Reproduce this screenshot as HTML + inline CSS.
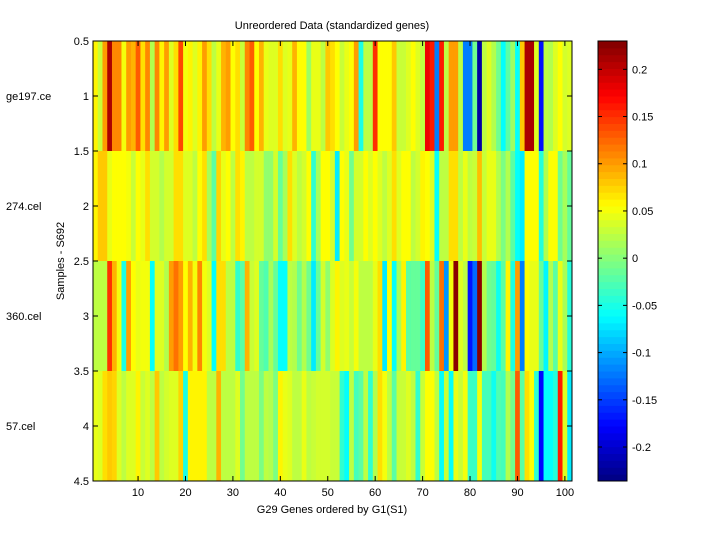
<!DOCTYPE html>
<html><head><meta charset="utf-8">
<style>
body{margin:0;background:#fff;font-family:"Liberation Sans",sans-serif;}
svg text{font-family:"Liberation Sans",sans-serif;font-size:11px;fill:#000;}
</style></head>
<body>
<svg id="chart" width="720" height="540" viewBox="0 0 720 540">
<rect width="720" height="540" fill="#fff"/>
<g id="cells"></g>
<g id="axes"></g>
<g id="cbar"></g>
<text x="332" y="29" text-anchor="middle">Unreordered Data (standardized genes)</text>
<text x="332" y="513" text-anchor="middle">G29 Genes ordered by G1(S1)</text>
<text x="0" y="0" text-anchor="middle" transform="translate(64,261) rotate(-90)">Samples - S692</text>
</svg>
<script>
const sampleNames = ["ge197.ce","274.cel","360.cel","57.cel"];
const row1 = [0.06,0.03,0.1,0.21,0.11,0.11,0.05,0.1,0.09,0.13,0.07,0.11,0.02,0.11,0.06,0.1,0.04,0.07,0.14,0.05,0.06,0.04,0.06,0.1,0.07,
0.025,0.045,0.09,0.1,0.055,0.07,0.03,0.11,0.13,0.055,0.09,0.045,0.04,0.04,0.07,0.04,0.045,0.09,0.055,0.055,0.01,0.045,0.045,0.025,0.08,
0.07,0.055,0.03,0.045,0.055,0.1,-0.05,0.025,0.025,0.15,0.055,0.055,0.055,0.08,0.03,0.03,0.04,0.055,0.04,0.025,0.18,0.16,-0.12,0.16,0.025,
0.1,0.1,0.025,-0.12,-0.12,-0.01,-0.22,0.025,0.04,0.02,-0.01,-0.06,-0.02,0.01,-0.06,0.08,0.21,0.21,0.04,-0.17,0.025,0.02,0.04,0.055,0.035,0.04];
const row2 = [0.06,0.08,0.08,0.045,0.055,0.055,0.055,0.05,0.03,0.055,0.045,0.07,0.035,0.035,0.02,0.035,0.035,0.07,0.07,0.04,0.04,0.025,0.055,0.07,0.015,
-0.02,0.075,0.045,0.055,0.025,0.07,0.06,0.025,0.025,0.035,0.035,0.005,0.005,0.035,-0.015,0.015,0.07,0.04,0.025,0.035,0.055,-0.04,0.015,0.055,0.055,
0.035,-0.07,0.055,0.045,-0.01,0.035,0.035,0.055,0.04,0.055,0.04,0.025,0.04,0.07,0.04,0.055,0.055,0.025,0.035,0.06,0.055,0.04,-0.06,0.025,0.025,
0.07,0.07,0.025,0.045,0.025,0.03,0.085,0.03,0.045,0.045,0.02,-0.005,0.02,-0.02,-0.06,-0.07,0.055,0.055,0.055,-0.045,0.02,0.055,0.055,-0.01,0.015,-0.015];
const row3 = [0.025,0.025,0.025,0.15,0.09,0.05,-0.05,0.1,0.055,0.045,0.05,0.05,-0.06,0.04,0.04,0.02,0.1,0.12,0.1,0.055,0.09,0.05,0.11,0.05,0.04,
-0.06,0.07,0.07,0.025,0.025,-0.04,-0.02,0.09,0.03,0.04,-0.015,-0.025,0.015,-0.015,-0.06,-0.06,0.025,0.02,-0.01,0.02,-0.01,-0.07,-0.015,0.035,0.005,
0.04,0.06,0.04,0.045,0.03,0.05,0.025,0.025,0.025,0.045,0.07,-0.07,0.055,-0.06,0.015,0.06,-0.02,-0.015,-0.015,-0.035,0.13,0.025,-0.015,0.12,-0.11,
0.05,0.225,0.04,0.025,-0.17,-0.13,0.225,0.02,-0.01,-0.015,-0.055,-0.02,0.06,-0.05,0.1,-0.12,0.055,0.045,0.045,-0.015,-0.065,0.02,-0.02,0.045,0.015,-0.045];
const row4 = [0.045,0.04,0.07,0.08,0.075,0.04,0.025,0.04,0.04,0.06,0.03,0.04,0.025,0.08,0.025,0.035,0.04,0.04,0.075,-0.05,0.06,0.06,0.06,0.06,0.025,
0.025,0.09,0.025,0.025,0.025,0.04,-0.01,0.025,0.025,0.025,-0.005,0.025,0.02,-0.005,0.06,0.045,0.04,0.025,0.025,0.045,0.025,0.03,0.035,0.035,0.035,
0.03,0.03,-0.04,-0.06,0.025,-0.03,-0.02,0.025,-0.04,0.02,0.07,0.05,0.025,-0.02,0.03,0.03,0.04,0.025,-0.04,0.03,0.055,0.055,0.025,-0.06,0.03,
-0.06,0.045,0.03,0.05,-0.035,-0.035,0.05,-0.03,-0.03,-0.055,-0.025,-0.03,0.02,-0.01,0.13,-0.02,0.07,0.055,-0.04,-0.175,-0.06,-0.06,-0.045,0.16,0.04,-0.07];
const xTicks = [10,20,30,40,50,60,70,80,90,100];
const yTicks = [0.5,1,1.5,2,2.5,3,3.5,4,4.5];
const cbTicks = [-0.2,-0.15,-0.1,-0.05,0,0.05,0.1,0.15,0.2];
const cMin = -0.236, cMax = 0.23;

const NS="http://www.w3.org/2000/svg";
const L=93,R=572,T=41,B=481;
const rows=[row1,row2,row3,row4];
const nCols=row1.length;
const xs=v=>L+(v-0.5)/nCols*(R-L);
const ys=v=>T+(v-0.5)/rows.length*(B-T);
function jet(v){
  let t=(v-cMin)/(cMax-cMin); t=Math.max(0,Math.min(1,t));
  const f=x=>Math.round(255*Math.max(0,Math.min(1,1.5-Math.abs(4*t-x))));
  return `rgb(${f(3)},${f(2)},${f(1)})`;
}
function mk(tag,attrs,parent){const e=document.createElementNS(NS,tag);for(const k in attrs)e.setAttribute(k,attrs[k]);parent.appendChild(e);return e;}
const cells=document.getElementById('cells');
rows.forEach((row,r)=>{
  row.forEach((v,c)=>{
    const x0=xs(c+0.5),x1=xs(c+1.5),y0=ys(r+0.5),y1=ys(r+1.5);
    const e=mk('rect',{x:x0,y:y0,width:x1-x0+0.4,height:y1-y0,fill:jet(v)},cells);
    
    
  });
});
const ax=document.getElementById('axes');
mk('rect',{x:L,y:T,width:R-L,height:B-T,fill:'none',stroke:'#000','stroke-width':1},ax);
xTicks.forEach(t=>{
  const x=xs(t);
  mk('line',{x1:x,x2:x,y1:B,y2:B-5,stroke:'#000'},ax);
  mk('line',{x1:x,x2:x,y1:T,y2:T+5,stroke:'#000'},ax);
  const tx=mk('text',{x:x,y:B+15,'text-anchor':'middle'},ax);tx.textContent=t;
  
  
});
yTicks.forEach(t=>{
  const y=ys(t);
  mk('line',{x1:L,x2:L+5,y1:y,y2:y,stroke:'#000'},ax);
  mk('line',{x1:R,x2:R-5,y1:y,y2:y,stroke:'#000'},ax);
  const tx=mk('text',{x:L-4,y:y+4,'text-anchor':'end'},ax);tx.textContent=t;
  
  
});
sampleNames.forEach((n,i)=>{
  const tx=mk('text',{x:6,y:ys(i+1)+4},ax);tx.textContent=n;
  
  
});
const cb=document.getElementById('cbar');
const CL=598,CR=627;
const cy=v=>B-(v-cMin)/(cMax-cMin)*(B-T);
for(let i=0;i<64;i++){
  const v0=cMin+i*(cMax-cMin)/64,v1=cMin+(i+1)*(cMax-cMin)/64;
  mk('rect',{x:CL,y:cy(v1),width:CR-CL,height:cy(v0)-cy(v1)+0.5,fill:jet((v0+v1)/2)},cb);
}
mk('rect',{x:CL,y:T,width:CR-CL,height:B-T,fill:'none',stroke:'#000'},cb);
cbTicks.forEach(t=>{
  const y=cy(t);
  mk('line',{x1:CR,x2:CR-4,y1:y,y2:y,stroke:'#000'},cb);
  mk('line',{x1:CL,x2:CL+4,y1:y,y2:y,stroke:'#000'},cb);
  const tx=mk('text',{x:CR+5,y:y+4},cb);tx.textContent=t;
  
  
});
</script>
</body></html>
